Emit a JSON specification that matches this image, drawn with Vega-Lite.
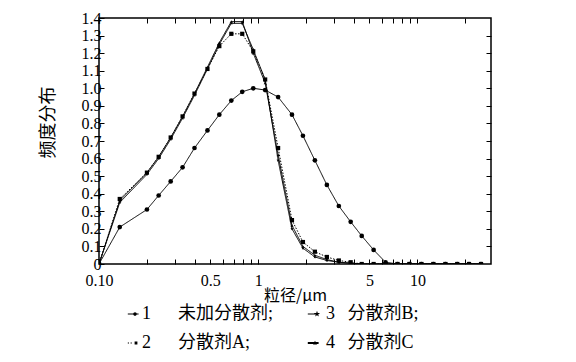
{
  "$schema": "https://vega.github.io/schema/vega-lite/v6.json",
  "width": 392,
  "height": 246,
  "autosize": {"type": "none"},
  "padding": {"left": 99, "top": 18, "right": 85, "bottom": 98},
  "background": "white",
  "config": {
    "view": {"stroke": "black", "strokeWidth": 1.5},
    "font": "Liberation Serif",
    "axis": {"grid": false, "domain": false, "tickColor": "black", "labelColor": "black", "titleColor": "black", "labelFont": "Liberation Serif", "labelFontSize": 16, "titleFontWeight": "normal", "tickWidth": 1}
  },
  "data": {"values": [
    {"s":"1","x":0.1,"y":0},{"s":"1","x":0.135,"y":0.21},{"s":"1","x":0.2,"y":0.31},{"s":"1","x":0.237,"y":0.39},{"s":"1","x":0.282,"y":0.47},{"s":"1","x":0.335,"y":0.55},{"s":"1","x":0.398,"y":0.66},{"s":"1","x":0.48,"y":0.76},{"s":"1","x":0.57,"y":0.85},{"s":"1","x":0.678,"y":0.93},{"s":"1","x":0.794,"y":0.98},{"s":"1","x":0.931,"y":1.0},{"s":"1","x":1.106,"y":0.99},{"s":"1","x":1.334,"y":0.95},{"s":"1","x":1.63,"y":0.85},{"s":"1","x":1.91,"y":0.73},{"s":"1","x":2.27,"y":0.59},{"s":"1","x":2.7,"y":0.45},{"s":"1","x":3.21,"y":0.33},{"s":"1","x":3.81,"y":0.24},{"s":"1","x":4.47,"y":0.16},{"s":"1","x":5.31,"y":0.08},{"s":"1","x":6.31,"y":0.01},{"s":"1","x":7.5,"y":0},{"s":"1","x":8.91,"y":0},{"s":"1","x":10.6,"y":0},{"s":"1","x":12.6,"y":0},{"s":"1","x":15,"y":0},{"s":"1","x":17.8,"y":0},{"s":"1","x":21.1,"y":0},{"s":"1","x":25.1,"y":0},
    {"s":"2","x":0.1,"y":0},{"s":"2","x":0.135,"y":0.37},{"s":"2","x":0.2,"y":0.52},{"s":"2","x":0.237,"y":0.61},{"s":"2","x":0.282,"y":0.72},{"s":"2","x":0.335,"y":0.84},{"s":"2","x":0.398,"y":0.97},{"s":"2","x":0.48,"y":1.11},{"s":"2","x":0.57,"y":1.24},{"s":"2","x":0.678,"y":1.31},{"s":"2","x":0.794,"y":1.31},{"s":"2","x":0.931,"y":1.21},{"s":"2","x":1.106,"y":1.05},{"s":"2","x":1.334,"y":0.66},{"s":"2","x":1.63,"y":0.25},{"s":"2","x":1.91,"y":0.125},{"s":"2","x":2.27,"y":0.07},{"s":"2","x":2.7,"y":0.04},{"s":"2","x":3.21,"y":0.02},{"s":"2","x":3.81,"y":0.01},{"s":"2","x":4.47,"y":0},{"s":"2","x":5.31,"y":0},{"s":"2","x":6.31,"y":0},{"s":"2","x":7.5,"y":0},{"s":"2","x":8.91,"y":0},{"s":"2","x":10.6,"y":0},{"s":"2","x":12.6,"y":0},{"s":"2","x":15,"y":0},{"s":"2","x":17.8,"y":0},{"s":"2","x":21.1,"y":0},{"s":"2","x":25.1,"y":0},
    {"s":"3","x":0.1,"y":0},{"s":"3","x":0.135,"y":0.35},{"s":"3","x":0.2,"y":0.51},{"s":"3","x":0.237,"y":0.6},{"s":"3","x":0.282,"y":0.71},{"s":"3","x":0.335,"y":0.83},{"s":"3","x":0.398,"y":0.96},{"s":"3","x":0.48,"y":1.11},{"s":"3","x":0.57,"y":1.25},{"s":"3","x":0.678,"y":1.37},{"s":"3","x":0.794,"y":1.37},{"s":"3","x":0.931,"y":1.22},{"s":"3","x":1.106,"y":1.05},{"s":"3","x":1.334,"y":0.59},{"s":"3","x":1.63,"y":0.2},{"s":"3","x":1.91,"y":0.09},{"s":"3","x":2.27,"y":0.04},{"s":"3","x":2.7,"y":0.02},{"s":"3","x":3.21,"y":0.01},{"s":"3","x":3.81,"y":0.005},{"s":"3","x":4.47,"y":0},{"s":"3","x":5.31,"y":0},{"s":"3","x":6.31,"y":0},{"s":"3","x":7.5,"y":0},{"s":"3","x":8.91,"y":0},{"s":"3","x":10.6,"y":0},{"s":"3","x":12.6,"y":0},{"s":"3","x":15,"y":0},{"s":"3","x":17.8,"y":0},{"s":"3","x":21.1,"y":0},{"s":"3","x":25.1,"y":0},
    {"s":"4","x":0.1,"y":0},{"s":"4","x":0.135,"y":0.36},{"s":"4","x":0.2,"y":0.52},{"s":"4","x":0.237,"y":0.61},{"s":"4","x":0.282,"y":0.72},{"s":"4","x":0.335,"y":0.84},{"s":"4","x":0.398,"y":0.97},{"s":"4","x":0.48,"y":1.12},{"s":"4","x":0.57,"y":1.26},{"s":"4","x":0.678,"y":1.38},{"s":"4","x":0.794,"y":1.38},{"s":"4","x":0.931,"y":1.2},{"s":"4","x":1.106,"y":1.03},{"s":"4","x":1.334,"y":0.62},{"s":"4","x":1.63,"y":0.22},{"s":"4","x":1.91,"y":0.1},{"s":"4","x":2.27,"y":0.05},{"s":"4","x":2.7,"y":0.025},{"s":"4","x":3.21,"y":0.01},{"s":"4","x":3.81,"y":0.005},{"s":"4","x":4.47,"y":0},{"s":"4","x":5.31,"y":0},{"s":"4","x":6.31,"y":0},{"s":"4","x":7.5,"y":0},{"s":"4","x":8.91,"y":0},{"s":"4","x":10.6,"y":0},{"s":"4","x":12.6,"y":0},{"s":"4","x":15,"y":0},{"s":"4","x":17.8,"y":0},{"s":"4","x":21.1,"y":0},{"s":"4","x":25.1,"y":0}
  ]},
  "layer": [
    {
      "mark": {"type": "line", "color": "black", "clip": true},
      "encoding": {
        "x": {"field": "x", "type": "quantitative", "scale": {"type": "log", "domain": [0.1, 29], "nice": false},
          "axis": {"orient": "bottom", "values": [0.1,0.2,0.3,0.4,0.5,0.6,0.7,0.8,0.9,1,2,3,4,5,6,7,8,9,10,20],
            "labelExpr": "datum.value==0.1?'0.10':datum.value==0.5?'0.5':datum.value==1?'1':datum.value==5?'5':datum.value==10?'10':''",
            "tickSize": -5, "labelPadding": 13, "labelFlush": false, "labelOverlap": false,
            "title": "粒径/μm", "titleFont": "Noto Sans CJK SC", "titleFontSize": 16, "titleY": 31, "titleBaseline": "middle"}},
        "y": {"field": "y", "type": "quantitative", "scale": {"domain": [0, 1.4], "nice": false},
          "axis": {"orient": "left", "values": [0,0.1,0.2,0.3,0.4,0.5,0.6,0.7,0.8,0.9,1,1.1,1.2,1.3,1.4],
            "labelExpr": "datum.value==0?'0':format(datum.value,'.1f')",
            "tickSize": -5, "labelPadding": 3, "labelOverlap": false, "labelFlush": false,
            "title": "频度分布", "titleFont": "Noto Sans CJK SC", "titleFontSize": 18, "titleX": -51, "titleY": 104, "titleAlign": "center", "titleBaseline": "middle", "titleAngle": 270}},
        "detail": {"field": "s"},
        "strokeDash": {"field": "s", "type": "nominal", "scale": {"domain": ["1","2","3","4"], "range": [[1,0],[1.5,1.5],[1,0],[1,0]]}, "legend": null},
        "strokeWidth": {"field": "s", "type": "ordinal", "scale": {"domain": ["1","2","3","4"], "range": [1, 1, 1.4, 2.2]}, "legend": null}
      }
    },
    {
      "mark": {"type": "point", "filled": true, "color": "black", "opacity": 1, "clip": true},
      "encoding": {
        "x": {"field": "x", "type": "quantitative", "scale": {"type": "log", "domain": [0.1, 29], "nice": false},
          "axis": {"orient": "top", "values": [0.2,0.3,0.4,0.5,0.6,0.7,0.8,0.9,1,2,3,4,5,6,7,8,9,10,20], "labels": false, "tickSize": -5, "title": null}},
        "y": {"field": "y", "type": "quantitative", "scale": {"domain": [0, 1.4], "nice": false},
          "axis": {"orient": "right", "values": [0.1,0.2,0.3,0.4,0.5,0.6,0.7,0.8,0.9,1,1.1,1.2,1.3], "labels": false, "tickSize": -5, "title": null}},
        "shape": {"field": "s", "type": "nominal", "scale": {"domain": ["1","2","3","4"], "range": ["circle", "square", "M0,-1L0.235,-0.324L0.951,-0.309L0.38,0.124L0.588,0.809L0,0.4L-0.588,0.809L-0.38,0.124L-0.951,-0.309L-0.235,-0.324Z", "triangle-up"]}, "legend": null},
        "size": {"field": "s", "type": "ordinal", "scale": {"domain": ["1","2","3","4"], "range": [22, 9, 30, 12]}, "legend": null}
      }
    },
    {
      "transform": [{"filter": "datum.y < 0"}],
      "mark": {"type": "point", "filled": true, "color": "black", "opacity": 1},
      "encoding": {
        "x": {"field": "x", "type": "quantitative", "scale": {"type": "log", "domain": [0.1, 29], "nice": false}, "axis": null},
        "y": {"field": "y", "type": "quantitative", "scale": {"domain": [0, 1.4], "nice": false}, "axis": null},
        "shape": {"field": "s", "type": "nominal",
          "scale": {"domain": ["1","3","2","4"], "range": [
            "M-1.8,-0.13L0.9,-0.13L0.9,0.13L-1.8,0.13ZM-0.45,0A0.45,0.45 0 1,1 0.45,0A0.45,0.45 0 1,1 -0.45,0Z",
            "M-2.8,-0.13L-0.5,-0.13L-0.5,0.13L-2.8,0.13ZM-0.5,-0.8L-0.312,-0.259L0.261,-0.247L-0.196,0.099L-0.029,0.647L-0.5,0.32L-0.971,0.647L-0.804,0.099L-1.261,-0.247L-0.688,-0.259Z",
            "M-1.8,-0.13L-1.5,-0.13L-1.5,0.13L-1.8,0.13ZM-1.1,-0.13L-0.8,-0.13L-0.8,0.13L-1.1,0.13ZM-0.1,-0.35L0.6,-0.35L0.6,0.35L-0.1,0.35Z",
            "M-2.8,-0.25L-0.1,-0.25L-0.1,0.25L-2.8,0.25ZM-1,-0.55L-0.5,0.35L-1.5,0.35Z"
          ]},
          "legend": {"orient": "none", "legendX": 27, "legendY": 287, "columns": 2, "title": null, "direction": "horizontal",
            "symbolSize": 64, "symbolFillColor": "black", "symbolStrokeColor": "black", "symbolStrokeWidth": 0, "symbolOpacity": 1,
            "labelFont": "Liberation Serif, Noto Sans CJK SC", "labelFontSize": 18, "labelColor": "black", "labelOffset": -2, "labelLimit": 300,
            "columnPadding": 33, "rowPadding": 11,
            "labelExpr": "datum.label=='1'?'1\u3000\u2002未加分散剂;':datum.label=='2'?'2\u3000\u2002分散剂A;':datum.label=='3'?'3\u2002\u2009分散剂B;':'4\u2002\u2009分散剂C'",
            "encode": {"symbols": {"update": {"fill": {"value": "black"}, "opacity": {"value": 1}}}}}}
      }
    }
  ],
  "resolve": {"axis": {"x": "independent", "y": "independent"}, "scale": {"shape": "independent", "size": "independent"}}
}
